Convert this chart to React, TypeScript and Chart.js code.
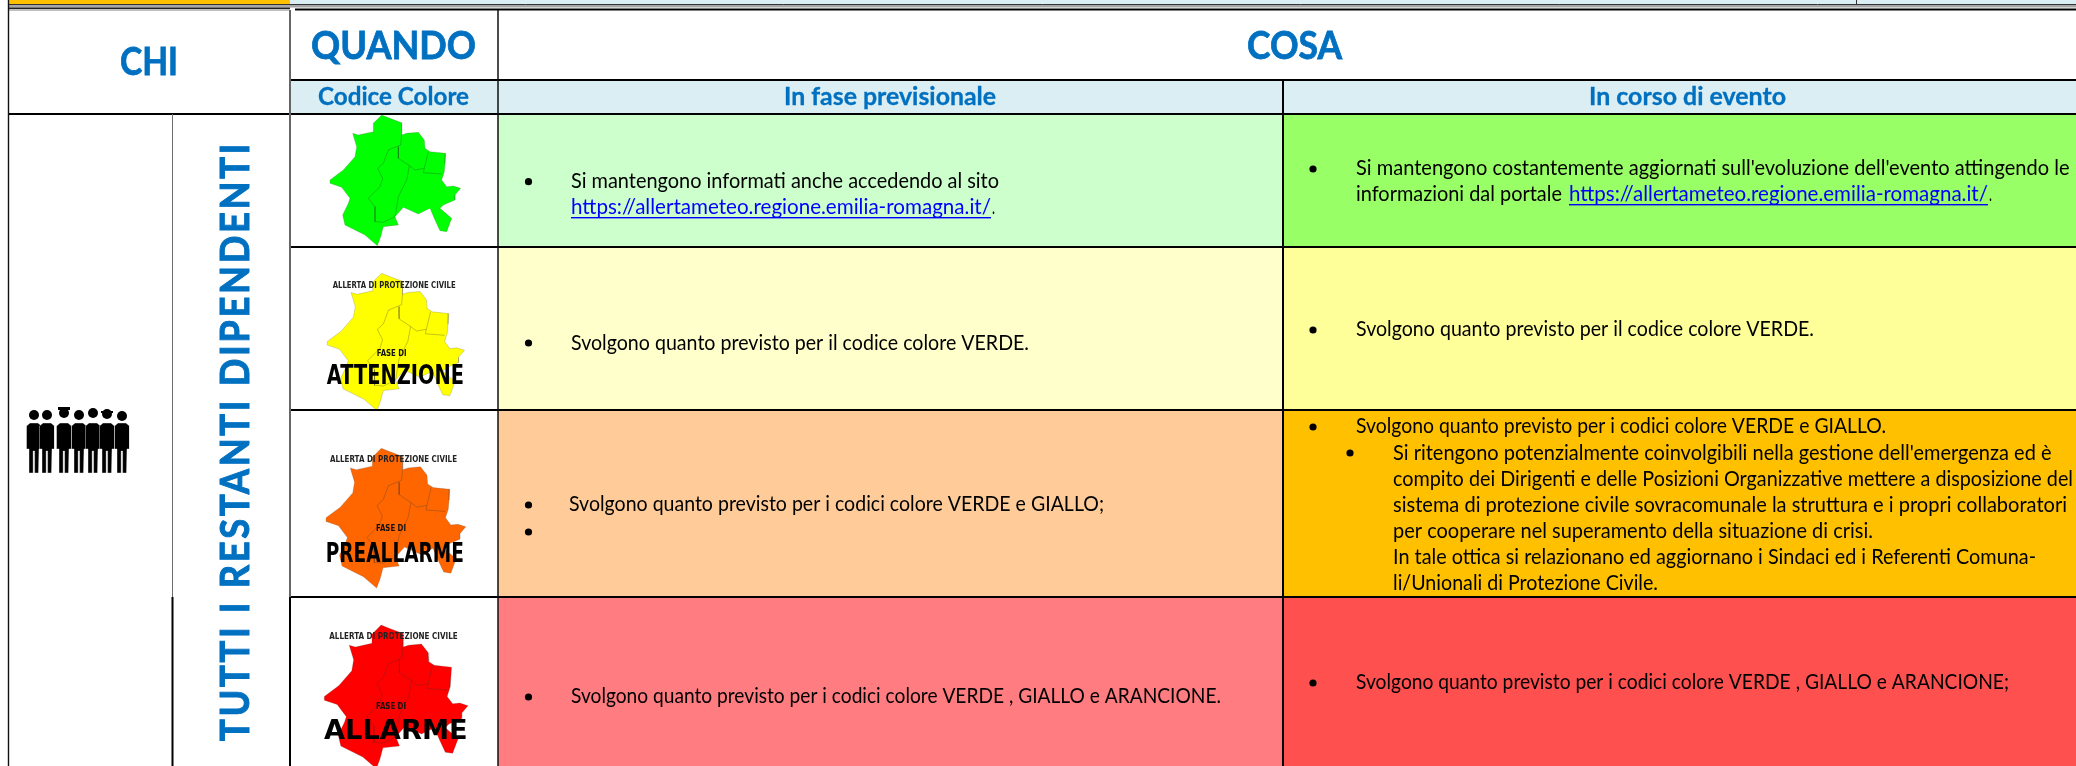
import React, { useEffect, useRef } from "react";
import { Chart, registerables } from "chart.js";

Chart.register(...registerables);

const WIDTH = 2076;
const HEIGHT = 766;

// ---- table structure ----
const columnEdges = [8.5, 173, 290, 498, 1283, 2076];
const rowEdges = [10, 80, 114, 247, 410, 597, 766];

const headerFill = "#DAEEF3";
const forecastFills = ["#CCFFCC", "#FFFFCC", "#FFCC99", "#FF7C80"];
const eventFills = ["#99FF66", "#FFFF99", "#FFC000", "#FF5050"];
const mapFills = ["#00FF00", "#FFFF00", "#FF6600", "#FF0000"];

// ---- map outline ----
const mapOutlineX = [275, 300, 335, 335, 350, 385, 403, 405, 420, 467, 465, 463, 455, 470, 490, 512, 495, 495, 460, 450, 485, 470, 450, 435, 420, 385, 340, 315, 325, 280, 272, 262, 225, 165, 158, 175, 180, 155, 120, 120, 160, 195, 200, 188, 205, 250, 250];
const mapOutlineY = [45, 55, 68, 105, 100, 97, 120, 145, 155, 160, 190, 215, 240, 260, 258, 265, 285, 300, 315, 325, 355, 395, 392, 360, 325, 342, 322, 350, 375, 380, 410, 437, 405, 375, 345, 310, 295, 262, 250, 240, 210, 170, 140, 100, 105, 95, 70];
const mapInnerA = [[335, 105], [332, 135], [295, 150], [280, 190], [263, 205], [278, 235], [270, 260], [235, 295], [255, 320], [255, 365], [280, 367], [315, 350]];
const mapInnerB = [[325, 140], [325, 175], [358, 197], [350, 240], [325, 290], [315, 350]];
const mapInnerC = [[358, 197], [375, 210], [403, 205], [415, 155]];
const mapInnerD = [[403, 205], [400, 218], [455, 222]];
const mapOriginX = [330, 327.3, 326, 324.3];
const mapOriginY = [115, 273.3, 448.3, 625];
const mapScale = [1, 1.05, 1.07, 1.1];

// ---- people pictogram ----
const peopleX = [34, 47, 64, 79, 93, 107, 122];
const peopleHeadY = [415, 415, 413, 415, 413, 414, 416];
const bodyDx = [-4, 4, 7.5, 7.5, 5, 4.5, 0.6, 0.6, -0.6, -0.6, -4.5, -5, -7.5, -7.5];
const bodyDy = [0, 0, 3, 26, 26, 50, 50, 28, 28, 50, 50, 26, 26, 3];

// ---- text ----
const titles = ["CHI", "QUANDO", "COSA"];
const subTitles = ["Codice Colore", "In fase previsionale", "In corso di evento"];
const verticalTitle = "TUTTI I RESTANTI DIPENDENTI";
const mapHeader = "ALLERTA DI PROTEZIONE CIVILE";
const mapPhase = "FASE DI";
const mapNames = ["ATTENZIONE", "PREALLARME", "ALLARME"];
const linkUrl = "https://allertameteo.regione.emilia-romagna.it/";
const forecastLines = [
  "Si mantengono informati anche accedendo al sito",
  "Svolgono quanto previsto per il codice colore VERDE.",
  "Svolgono quanto previsto per i codici colore VERDE e GIALLO;",
  "Svolgono quanto previsto per i codici colore VERDE , GIALLO e ARANCIONE.",
];
const eventLines = [
  "Si mantengono costantemente aggiornati sull'evoluzione dell'evento attingendo le",
  "Svolgono quanto previsto per il codice colore VERDE.",
  "Svolgono quanto previsto per i codici colore VERDE e GIALLO.",
  "Si ritengono potenzialmente coinvolgibili nella gestione dell'emergenza ed è",
  "compito dei Dirigenti e delle Posizioni Organizzative mettere a disposizione del",
  "sistema di protezione civile sovracomunale la struttura e i propri collaboratori",
  "per cooperare nel superamento della situazione di crisi.",
  "In tale ottica si relazionano ed aggiornano i Sindaci ed i Referenti Comuna-",
  "li/Unionali di Protezione Civile.",
  "Svolgono quanto previsto per i codici colore VERDE , GIALLO e ARANCIONE;",
];
const portalPrefix = "informazioni dal portale ";

// ---- bullets ----
const bulletX = [528.5, 528.5, 528.5, 528.5, 528.5, 1313, 1313, 1313, 1350, 1313];
const bulletY = [181.7, 343, 505, 532, 697, 169, 330, 427, 453, 683];

type P = { x: number; y: number };
const pts = (xs: number[], ys: number[]): P[] => xs.map((x, i) => ({ x, y: ys[i] }));
const rect = (x0: number, y0: number, x1: number, y1: number): P[] => [
  { x: x0, y: y0 }, { x: x1, y: y0 }, { x: x1, y: y1 }, { x: x0, y: y1 }, { x: x0, y: y0 },
];

function buildDatasets() {
  const ds: any[] = [];
  const poly = (data: P[], color: string, border = "rgba(0,0,0,0)", bw = 1) =>
    ds.push({ data, showLine: true, fill: "shape", backgroundColor: color, borderColor: border, borderWidth: bw, pointRadius: 0, tension: 0 });
  const line = (data: P[], color: string, bw: number) =>
    ds.push({ data, showLine: true, fill: false, borderColor: color, borderWidth: bw, pointRadius: 0, tension: 0, borderCapStyle: "butt" });

  const [c0, c1, c2, c3, c4, c5] = columnEdges;
  const [r0, r1, r2] = rowEdges;

  // top strip
  poly(rect(c0, 0, c2, 5), "#FFC000");
  poly(rect(c2, 0, c5, 5), headerFill);
  poly(rect(c2, 80, c5, 114), headerFill);
  for (let i = 0; i < 4; i++) {
    poly(rect(c3, rowEdges[i + 2], c4, rowEdges[i + 3]), forecastFills[i]);
    poly(rect(c4, rowEdges[i + 2], c5, rowEdges[i + 3]), eventFills[i]);
  }

  // maps
  mapFills.forEach((fill, i) => {
    const tx = (x: number) => mapOriginX[i] + ((x - 120) / 3) * mapScale[i];
    const ty = (y: number) => mapOriginY[i] + ((y - 45) / 3) * mapScale[i];
    const outline = mapOutlineX.map((x, k) => ({ x: tx(x), y: ty(mapOutlineY[k]) }));
    outline.push(outline[0]);
    poly(outline, fill, "rgba(70,70,70,0.3)", 0.7);
    [mapInnerA, mapInnerB, mapInnerC, mapInnerD].forEach((seg) =>
      line(seg.map(([x, y]) => ({ x: tx(x), y: ty(y) })), "rgba(50,50,50,0.4)", 0.7)
    );
  });

  // people
  peopleX.forEach((cx) => {
    const body = bodyDx.map((dx, k) => ({ x: cx + dx, y: 423 + bodyDy[k] }));
    body.push(body[0]);
    poly(body, "#000000", "#FFFFFF", 0.4);
  });
  poly(rect(peopleX[2] - 6, 407, peopleX[2] + 6, 410), "#000000");
  poly(rect(peopleX[5] - 6, 411, peopleX[5] + 6, 413), "#000000");
  ds.push({ data: pts(peopleX, peopleHeadY), showLine: false, pointRadius: 5, backgroundColor: "#000", borderWidth: 0 });

  // bullets
  ds.push({ data: pts(bulletX, bulletY), showLine: false, pointRadius: 3.6, backgroundColor: "#000", borderWidth: 0 });

  // top rule
  line([{ x: c0, y: 4.5 }, { x: c5, y: 4.5 }], "#333333", 1);
  line([{ x: c0, y: 6.2 }, { x: c5, y: 6.2 }], "#A6A6A6", 2.4);
  line([{ x: c0, y: 8.2 }, { x: c2, y: 8.2 }], "#222222", 1.4);
  line([{ x: c0, y: 10 }, { x: c2, y: 10 }], "#BFBFBF", 2);
  line([{ x: c2 + 5, y: 9.5 }, { x: c5, y: 9.5 }], "#000000", 2);
  line([{ x: 1856.5, y: 0 }, { x: 1856.5, y: 4 }], "#333333", 1);

  // horizontal rules
  line([{ x: c2, y: r1 }, { x: c5, y: r1 }], "#000000", 2);
  line([{ x: c0, y: r2 }, { x: c5, y: r2 }], "#000000", 2);
  [rowEdges[3], rowEdges[4], rowEdges[5]].forEach((y) =>
    line([{ x: c2 - 1, y }, { x: c5, y }], "#000000", 2)
  );

  // vertical rules
  line([{ x: c0, y: 0 }, { x: c0, y: HEIGHT }], "#111111", 1.4);
  line([{ x: c1 - 0.5, y: r2 }, { x: c1 - 0.5, y: rowEdges[5] }], "#6E6E6E", 1);
  line([{ x: c1 - 0.5, y: rowEdges[5] }, { x: c1 - 0.5, y: HEIGHT }], "#000000", 2);
  line([{ x: c2, y: r0 }, { x: c2, y: rowEdges[5] }], "#666666", 2);
  line([{ x: c2, y: rowEdges[5] }, { x: c2, y: HEIGHT }], "#000000", 2);
  line([{ x: c3, y: r0 }, { x: c3, y: HEIGHT }], "#111111", 1.5);
  line([{ x: c4, y: r1 }, { x: c4, y: HEIGHT }], "#000000", 2);

  ds.forEach((d, i) => (d.order = -i));
  return ds;
}

const BLUE = "#0070C0";
const BODY = "20.5px Lato";

const textPlugin = {
  id: "tableText",
  afterDatasetsDraw(chart: any) {
    const ctx: CanvasRenderingContext2D = chart.ctx;
    const sx = chart.scales.x;
    const sy = chart.scales.y;
    const put = (text: string, x0: number, x1: number, base: number, font: string, color = "#000", underline = false, stroke = 0) => {
      ctx.save();
      ctx.font = font;
      ctx.fillStyle = color;
      ctx.strokeStyle = color;
      ctx.textBaseline = "alphabetic";
      ctx.textAlign = "left";
      const px0 = sx.getPixelForValue(x0);
      const px1 = sx.getPixelForValue(x1);
      const py = sy.getPixelForValue(base);
      const w = ctx.measureText(text).width;
      ctx.translate(px0, py);
      ctx.scale((px1 - px0) / w, 1);
      ctx.fillText(text, 0, 0);
      if (stroke > 0) {
        ctx.lineWidth = stroke;
        ctx.strokeText(text, 0, 0);
      }
      ctx.restore();
      if (underline) {
        ctx.save();
        ctx.fillStyle = color;
        ctx.fillRect(px0, py + 3, px1 - px0, 1.4);
        ctx.restore();
      }
    };

    // titles
    const big = "bold 39px Lato";
    put(titles[0], 120, 178, 75, big, BLUE, false, 0.8);
    put(titles[1], 311, 476, 59, big, BLUE, false, 0.8);
    put(titles[2], 1247, 1342, 59, big, BLUE, false, 0.8);
    const sub = "bold 24.5px Lato";
    put(subTitles[0], 318, 469, 105, sub, BLUE, false, 0.3);
    put(subTitles[1], 784, 996, 105, sub, BLUE, false, 0.3);
    put(subTitles[2], 1589, 1786, 105, sub, BLUE, false, 0.3);

    // vertical title
    ctx.save();
    ctx.font = "bold 41px Lato";
    (ctx as any).letterSpacing = "3px";
    ctx.fillStyle = BLUE;
    ctx.strokeStyle = BLUE;
    ctx.lineWidth = 1;
    ctx.translate(sx.getPixelForValue(248.5), sy.getPixelForValue(741));
    ctx.rotate(-Math.PI / 2);
    ctx.scale(600 / ctx.measureText(verticalTitle).width, 1);
    ctx.fillText(verticalTitle, 0, 0);
    ctx.strokeText(verticalTitle, 0, 0);
    ctx.restore();

    // forecast column
    put(forecastLines[0], 571, 999, 188, BODY);
    put(linkUrl, 571, 991, 214, BODY, "#0000FF", true);
    put(".", 992, 995, 214, BODY);
    put(forecastLines[1], 571, 1029, 350, BODY);
    put(forecastLines[2], 569, 1104, 511, BODY);
    put(forecastLines[3], 571, 1221, 703, BODY);

    // event column
    put(eventLines[0], 1356, 2069.5, 175, BODY);
    put(portalPrefix, 1356, 1567, 201, BODY);
    put(linkUrl, 1569, 1988, 201, BODY, "#0000FF", true);
    put(".", 1989, 1992, 201, BODY);
    put(eventLines[1], 1356, 1814, 336, BODY);
    put(eventLines[2], 1356, 1886, 433, BODY);
    put(eventLines[3], 1393, 2051.5, 460, BODY);
    put(eventLines[4], 1393, 2073, 486, BODY);
    put(eventLines[5], 1393, 2067, 512, BODY);
    put(eventLines[6], 1393, 1873, 538, BODY);
    put(eventLines[7], 1393, 2036, 564, BODY);
    put(eventLines[8], 1393, 1658, 590, BODY);
    put(eventLines[9], 1356, 2009, 689, BODY);

    // map captions
    const capFont = "bold 8px 'DejaVu Sans'";
    const phaseFont = "bold 8px 'DejaVu Sans'";
    const nameFont = "bold 27px 'DejaVu Sans'";
    put(mapHeader, 332.7, 455.7, 288, capFont, "#222");
    put(mapPhase, 376.7, 406.7, 355.7, phaseFont, "#111");
    put(mapNames[0], 326.7, 464, 384, nameFont);
    put(mapHeader, 330, 457, 462, capFont, "#222");
    put(mapPhase, 376, 406, 531.3, phaseFont, "#111");
    put(mapNames[1], 325.7, 464, 562, nameFont);
    put(mapHeader, 329.3, 457.7, 639.3, capFont, "#222");
    put(mapPhase, 376, 406, 709.3, phaseFont, "#111");
    put(mapNames[2], 324, 467.7, 739, nameFont);
  },
};

export default function App() {
  const ref = useRef<HTMLCanvasElement | null>(null);
  useEffect(() => {
    document.body.style.background = "#FFFFFF";
    const chart = new Chart(ref.current as HTMLCanvasElement, {
      type: "scatter",
      data: { datasets: buildDatasets() },
      options: {
        animation: false,
        responsive: false,
        events: [],
        layout: { padding: 0, autoPadding: false },
        plugins: { legend: { display: false }, tooltip: { enabled: false } },
        scales: {
          x: { type: "linear", display: false, min: 0, max: WIDTH },
          y: { type: "linear", display: false, min: 0, max: HEIGHT, reverse: true },
        },
      },
      plugins: [textPlugin],
    } as any);
    return () => chart.destroy();
  }, []);
  return (
    <canvas
      ref={ref}
      width={WIDTH}
      height={HEIGHT}
      style={{ position: "fixed", left: 0, top: 0, width: WIDTH, height: HEIGHT, display: "block" }}
    />
  );
}
